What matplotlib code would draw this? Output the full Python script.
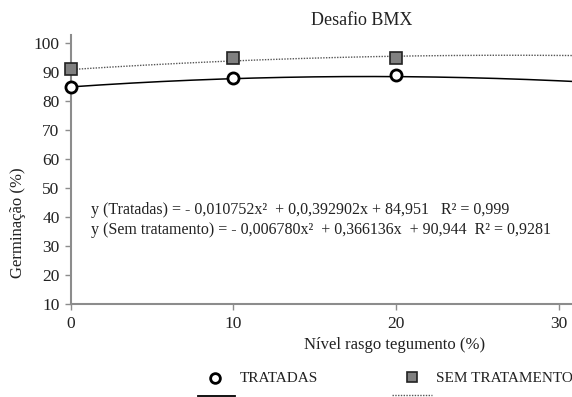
import numpy as np
import matplotlib.pyplot as plt
from matplotlib.lines import Line2D

plt.rcParams['font.family'] = ['Liberation Serif', 'DejaVu Serif']

# Observed germination (%) per cutting level
nivel = [0, 10, 20]
tratadas = [85, 88, 89]
sem_tratamento = [91, 95, 95]

# Quadratic fits (a x^2 + b x + c)
coef_tratadas = [-0.010752, 0.392902, 84.951]
coef_sem = [-0.006780, 0.366136, 90.944]
r2_tratadas = '0,999'
r2_sem = '0,9281'

fig = plt.figure(figsize=(5.72, 3.97), dpi=100)
ax = fig.add_axes([0.1236, 0.2343, 0.8764, 0.6777])

x_fit = np.linspace(0, 31, 200)
ax.plot(x_fit, np.polyval(coef_tratadas, x_fit), color='black', lw=1.1, zorder=2)
ax.plot(x_fit, np.polyval(coef_sem, x_fit), color='#555555', lw=1.0,
        linestyle=(0, (1, 1)), zorder=2)

ax.plot(nivel, tratadas, 'o', ms=8, mfc='white', mec='black', mew=2.0,
        clip_on=False, zorder=4)
ax.plot(nivel, sem_tratamento, 's', ms=8.5, mfc='#808080', mec='#222222', mew=1.2,
        clip_on=False, zorder=4)

ax.set_xlim(0, 30.8)
ax.set_ylim(10, 102.9)
ax.set_xticks([0, 10, 20, 30])
ax.set_yticks(range(10, 101, 10))

for side in ['top', 'right']:
    ax.spines[side].set_visible(False)
for side in ['left', 'bottom']:
    ax.spines[side].set_color('#8c8c8c')
    ax.spines[side].set_linewidth(1.5)
ax.tick_params(axis='both', colors='#8c8c8c', direction='out', length=4,
               width=1.0, labelsize=12.5, labelcolor='#222222')
ax.tick_params(axis='x', pad=5)
ax.tick_params(axis='y', pad=4)

fig.text(0.0315, 0.44, 'Germinação (%)', rotation=90, ha='center', va='center',
         fontsize=12, color='#222222')
fig.text(0.689, 0.131, 'Nível rasgo tegumento (%)', ha='center', va='center',
         fontsize=12, color='#222222')
fig.text(0.633, 0.949, 'Desafio BMX', ha='center', va='center',
         fontsize=13, color='#222222')

def fmt(v, nd):
    return f'{abs(v):.{nd}f}'.replace('.', ',')

eq1 = (f'y (Tratadas) = - {fmt(coef_tratadas[0], 6)}x²  + 0,{fmt(coef_tratadas[1], 6)}x'
       f' + {fmt(coef_tratadas[2], 3)}   R² = {r2_tratadas}')
eq2 = (f'y (Sem tratamento) = - {fmt(coef_sem[0], 6)}x²  + {fmt(coef_sem[1], 6)}x'
       f'  + {fmt(coef_sem[2], 3)}  R² = {r2_sem}')
fig.text(0.159, 0.471, eq1, ha='left', va='center', fontsize=11.5, color='#222222')
fig.text(0.159, 0.421, eq2, ha='left', va='center', fontsize=11.5, color='#222222')

# Legend drawn in figure coordinates: markers above, line samples below
fig.add_artist(Line2D([215 / 572], [1 - 378 / 397], marker='o', ms=7, mfc='white',
                      mec='black', mew=2.0, linestyle='none'))
fig.text(240 / 572, 1 - 378 / 397, 'TRATADAS', ha='left', va='center',
         fontsize=11, color='#222222')
fig.add_artist(Line2D([198 / 572, 235 / 572], [1 - 396 / 397] * 2, color='black', lw=1.3))

fig.add_artist(Line2D([412 / 572], [1 - 377 / 397], marker='s', ms=7.5, mfc='#808080',
                      mec='#222222', mew=1.2, linestyle='none'))
fig.text(436 / 572, 1 - 378 / 397, 'SEM TRATAMENTO', ha='left', va='center',
         fontsize=11, color='#222222')
fig.add_artist(Line2D([392 / 572, 432 / 572], [1 - 395 / 397] * 2, color='#555555',
                      lw=1.0, linestyle=(0, (1, 1))))

fig.savefig('out.png', dpi=100)
